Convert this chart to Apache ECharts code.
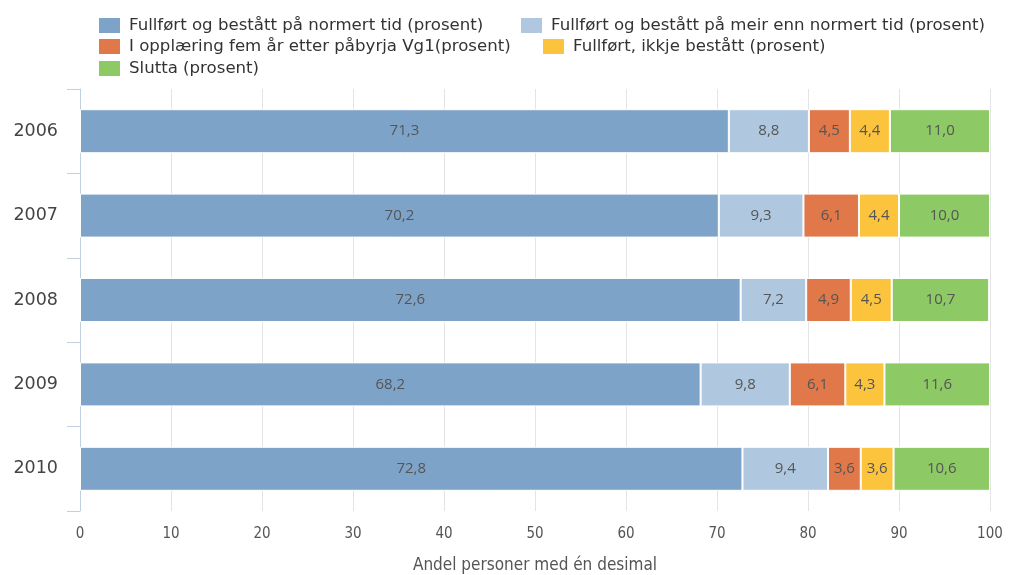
<!DOCTYPE html>
<html><head><meta charset="utf-8">
<script src="https://cdn.jsdelivr.net/npm/echarts@6/dist/echarts.min.js"></script>
<style>html,body{margin:0;padding:0;background:#fff}#c{width:1011px;height:575px}</style>
</head><body><div id="c"></div>
<script>
const years = ['2006','2007','2008','2009','2010'];
const seriesNames = [
  'Fullført og bestått på normert tid (prosent)',
  'Fullført og bestått på meir enn normert tid (prosent)',
  'I opplæring fem år etter påbyrja Vg1(prosent)',
  'Fullført, ikkje bestått (prosent)',
  'Slutta (prosent)'
];
const normert = [71.3, 70.2, 72.6, 68.2, 72.8];
const meirEnn = [8.8, 9.3, 7.2, 9.8, 9.4];
const iOpplaering = [4.5, 6.1, 4.9, 6.1, 3.6];
const ikkjeBestatt = [4.4, 4.4, 4.5, 4.3, 3.6];
const slutta = [11.0, 10.0, 10.7, 11.6, 10.6];
const xTicks = [0,10,20,30,40,50,60,70,80,90,100];

const colors = ['#7ea3c8','#b0c8df','#e0784a','#fcc43c','#8dc965'];
const values = [normert, meirEnn, iOpplaering, ikkjeBestatt, slutta];
const legendPos = [[97,16],[519,16],[97,37],[541,37],[97,59]];
const font = 'DejaVu Sans';
const cond = '"DejaVu Sans Condensed", "Open Sans", sans-serif';

const chart = echarts.init(document.getElementById('c'));
chart.setOption({
  animation:false,
  color: colors,
  legend: seriesNames.map((n,i)=>({
    data:[n], left:legendPos[i][0], top:legendPos[i][1], padding:0,
    itemWidth:23, itemHeight:17, itemGap:0, icon:'rect',
    textStyle:{fontFamily:font, fontSize:16.6, color:'#333', padding:[0,0,0,3]},
    selectedMode:false
  })),
  grid:{left:80, right:21, top:89, bottom:64, containLabel:false, outerBoundsMode:'none'},
  xAxis:{
    type:'value', min:0, max:100, interval:10,
    name:'Andel personer med én desimal', nameLocation:'middle', nameGap:46,
    nameTextStyle:{fontFamily:cond, fontSize:17, color:'#555'},
    axisLabel:{fontFamily:cond, fontSize:15, color:'#555', margin:16,
      formatter:v=>xTicks.includes(v)?String(v):''},
    axisLine:{show:false}, axisTick:{show:false},
    splitLine:{show:true, lineStyle:{color:'#e4e4e4', width:1}}
  },
  yAxis:{
    type:'category', data:years, inverse:true,
    axisLabel:{fontFamily:font, fontSize:17.5, color:'#444', margin:22},
    axisLine:{show:true, lineStyle:{color:'#c0d0e0'}},
    axisTick:{show:true, length:13, inside:false, alignWithLabel:false, lineStyle:{color:'#c0d0e0'}}
  },
  series: seriesNames.map((n,i)=>({
    name:n, type:'bar', stack:'a', barWidth:44,
    data: values[i],
    itemStyle:{borderColor:'#fff', borderWidth:1},
    label:{show:true, position:'inside', fontFamily:'"Open Sans", sans-serif', fontSize:15, color:'#555',
      formatter:p=>p.value.toFixed(1).replace('.',',')}
  }))
});
</script></body></html>
